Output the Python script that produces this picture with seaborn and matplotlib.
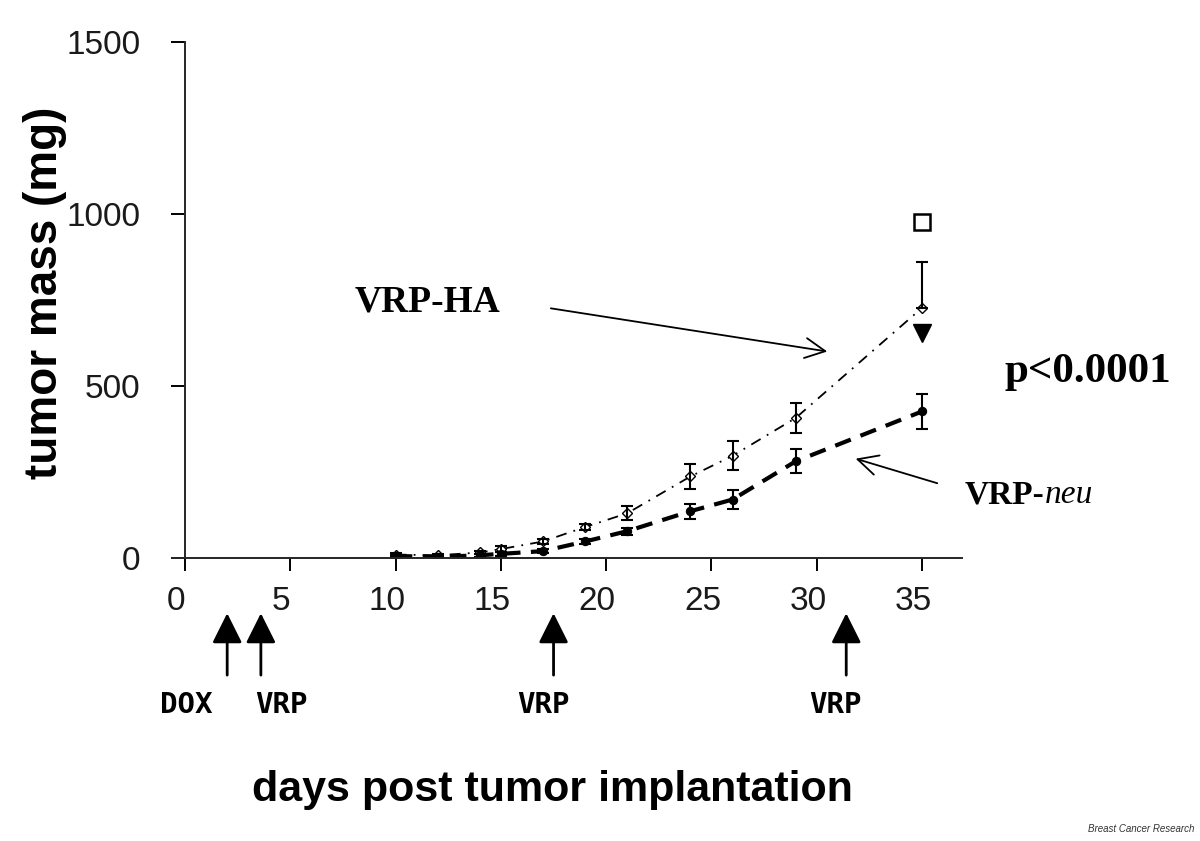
import numpy as np
import matplotlib
matplotlib.use("Agg")
import matplotlib.pyplot as plt
import matplotlib.transforms as mtransforms
import seaborn as sns

# data (day, mg)
days = [10, 12, 14, 15, 17, 19, 21, 24, 26, 29, 35]
ha_mass = [10, 8, 16, 26, 48, 90, 130, 237, 297, 407, 727]
ha_err_lo = [5, 4, 5, 10, 8, 10, 20, 37, 42, 45, 0]
ha_err_hi = [5, 4, 5, 10, 8, 10, 20, 37, 42, 45, 133]
neu_mass = [6, 3, 8, 12, 20, 48, 78, 136, 170, 281, 426]
neu_err = [4, 3, 4, 6, 6, 8, 10, 22, 29, 35, 51]

end_day = 35
square_mass = 978
triangle_mass = 653

dose_days = [2.0, 3.6, 17.5, 31.4]
dose_labels = ["DOX", "VRP", "VRP", "VRP"]

sns.set_style("ticks")
plt.rcParams["font.family"] = ["Liberation Sans", "DejaVu Sans"]
plt.rcParams["text.color"] = "black"
plt.rcParams["axes.labelcolor"] = "black"

fig = plt.figure(figsize=(12, 8.41), dpi=100)
ax = fig.add_axes([0.1437, 0.3365, 0.658, 0.6136])

sns.lineplot(x=days, y=ha_mass, ax=ax, color="black", linestyle=(0, (6, 4, 1, 4)),
             linewidth=1.3, marker="D", markersize=5, markerfacecolor="white",
             markeredgecolor="black", markeredgewidth=1)
ax.errorbar(days, ha_mass, yerr=[ha_err_lo, ha_err_hi], fmt="none",
            ecolor="black", elinewidth=1.5, capsize=4, capthick=1.5)

sns.lineplot(x=days, y=neu_mass, ax=ax, color="black", linestyle=(0, (4, 2.5)),
             linewidth=3, marker="o", markersize=6, markeredgecolor="black")
ax.errorbar(days, neu_mass, yerr=neu_err, fmt="none",
            ecolor="black", elinewidth=1.5, capsize=4, capthick=1.5)

ax.plot([end_day], [square_mass], marker="s", markersize=11, markerfacecolor="white",
        markeredgecolor="black", markeredgewidth=1.8, linestyle="none")
ax.plot([end_day], [triangle_mass], marker="v", markersize=13, color="black",
        linestyle="none")

ax.set_xlim(-0.6, 36.9)
ax.set_ylim(0, 1500)
ax.set_xticks(range(0, 40, 5))
ax.set_yticks([0, 500, 1000, 1500])
sns.despine(ax=ax)
ax.spines["left"].set_position(("data", 0))
ax.spines["left"].set_linewidth(1.4)
ax.spines["bottom"].set_linewidth(1.4)
ax.tick_params(axis="both", direction="out", width=1.4,
               labelsize=24, colors="black", labelcolor="#1a1a1a")
ax.tick_params(axis="x", length=9, pad=11)
ax.tick_params(axis="y", length=10, pad=22)
# x tick labels sit a little left of their ticks in the original
shift = mtransforms.ScaledTranslation(-0.09, 0, fig.dpi_scale_trans)
for lab in ax.get_xticklabels():
    lab.set_transform(lab.get_transform() + shift)

ax.set_ylabel("tumor mass (mg)", fontsize=33, fontweight="bold", labelpad=0)
ax.yaxis.set_label_coords(-0.134, 0.514)
ax.set_xlabel("")
fig.text(0.46, 0.061, "days post tumor implantation", fontsize=31,
         fontweight="bold", ha="center", va="center")

serif = ["Liberation Serif", "DejaVu Serif"]
ax.text(8.07, 744, "VRP-HA", fontsize=27, fontweight="bold", family=serif,
        ha="left", va="center")
ax.annotate("", xy=(30.63, 599), xytext=(17.24, 727),
            arrowprops=dict(arrowstyle="->", color="black", lw=1.3,
                            mutation_scale=36))
ax.text(38.94, 540, "p<0.0001", fontsize=31, fontweight="bold", family=serif,
        ha="left", va="center", clip_on=False)
ax.annotate("", xy=(31.72, 291), xytext=(35.85, 215),
            arrowprops=dict(arrowstyle="->", color="black", lw=1.3,
                            mutation_scale=36), annotation_clip=False)
t = ax.text(37.04, 183, "VRP-", fontsize=24, fontweight="bold", family=serif,
            ha="left", va="center", clip_on=False)
ax.annotate("neu", xycoords=t, xy=(1, 0.5), va="center", ha="left",
            fontsize=24, fontstyle="italic", family=serif, annotation_clip=False)

trans = ax.get_xaxis_transform()
for d in dose_days:
    ax.annotate("", xy=(d, -0.107), xytext=(d, -0.227), xycoords=trans,
                textcoords=trans,
                arrowprops=dict(arrowstyle="-|>", color="black", lw=2,
                                mutation_scale=46, shrinkA=0, shrinkB=0),
                annotation_clip=False)
label_x = [0.05, 4.6, 17.0, 30.9]
for lx, lab in zip(label_x, dose_labels):
    ax.text(lx, -0.285, lab, transform=trans, fontsize=21, fontweight="bold",
            family=["DejaVu Sans Mono"], ha="center", va="center")

fig.text(0.995, 0.008, "Breast Cancer Research", fontsize=7, fontstyle="italic",
         color="#333333", ha="right", va="bottom")

fig.savefig("out.png", dpi=100, facecolor="white")
